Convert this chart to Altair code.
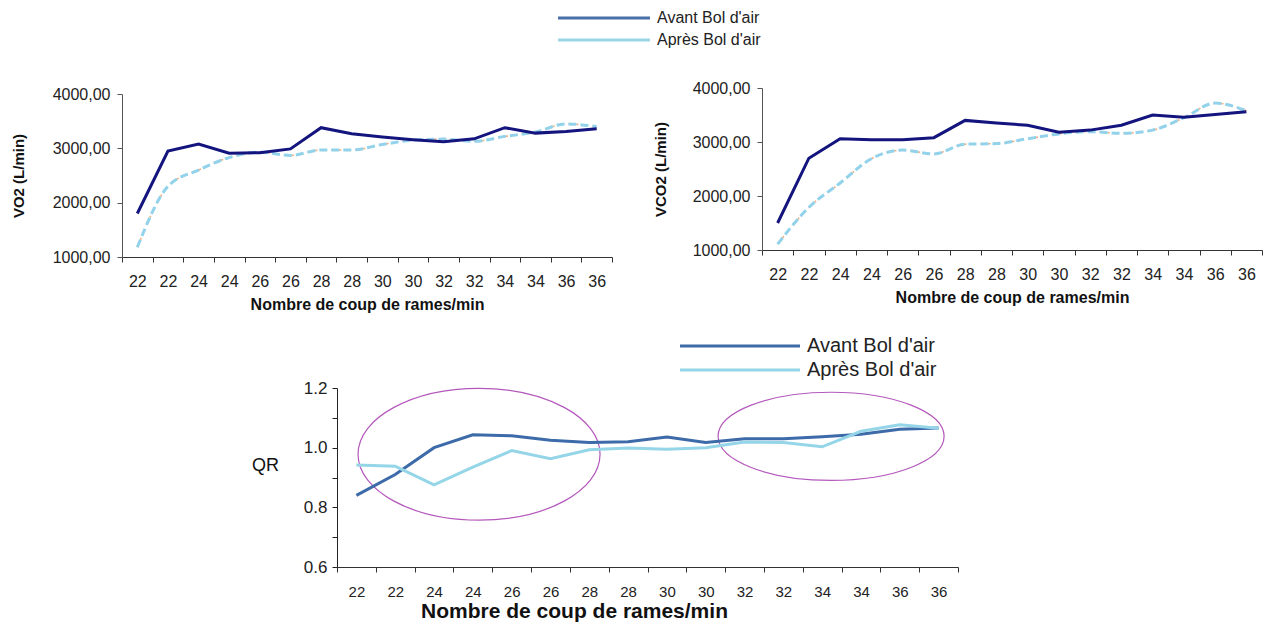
import json
import altair as alt
import pandas as pd

# ---------------- data ----------------
x_labels = ["22", "22", "24", "24", "26", "26", "28", "28",
            "30", "30", "32", "32", "34", "34", "36", "36"]
idx = list(range(len(x_labels)))

vo2_avant = [1800, 2950, 3080, 2910, 2920, 2990, 3380, 3270,
             3210, 3160, 3120, 3175, 3380, 3280, 3310, 3360]
vo2_apres = [1180, 2300, 2600, 2830, 2930, 2870, 2970, 2970,
             3070, 3150, 3170, 3130, 3220, 3300, 3450, 3400]

vco2_avant = [1500, 2700, 3060, 3040, 3040, 3080, 3400, 3350,
              3310, 3180, 3220, 3310, 3500, 3460, 3510, 3560]
vco2_apres = [1110, 1790, 2240, 2690, 2850, 2780, 2960, 2970,
              3060, 3150, 3190, 3160, 3220, 3450, 3720, 3580]

qr_avant = [0.84, 0.91, 1.00, 1.043, 1.04, 1.025, 1.017, 1.02,
            1.036, 1.017, 1.03, 1.03, 1.037, 1.045, 1.062, 1.066]
qr_apres = [0.942, 0.938, 0.875, 0.935, 0.99, 0.963, 0.993, 0.999,
            0.995, 1.0, 1.019, 1.017, 1.003, 1.055, 1.077, 1.065]

legend_labels = ["Avant Bol d'air", "Après Bol d'air"]
gas_ticks = [1000, 2000, 3000, 4000]
qr_ticks = [0.6, 0.7, 0.8, 0.9, 1.0, 1.1, 1.2]

# highlighted regions (ellipses): centre (index, QR)
ellipse_idx = [3.16, 12.23]
ellipse_qr = [0.978, 1.038]

# ---------------- layout (pixels inside the drawing area) ----------------
W, H = 1255, 615
FONT = "Liberation Sans"
N = len(x_labels)
boundaries = [i - 0.5 for i in range(N + 1)]
label_expr_x = json.dumps(x_labels) + "[round(datum.value + 0.5)] || ''"

C_AVANT_TOP = "#14147e"
C_APRES_TOP = "#92d2ea"
C_ORANGE = "#f0a878"
C_AVANT_QR = "#3d6aa8"
C_APRES_QR = "#94d5e8"
C_LEG = ["#4a70a8", "#9ad6e6"]
C_ELL = "#b458bc"


def x_enc(xr, axis_y, label_size, title_size, label_padding, title_padding, **extra):
    kw = dict(orient="bottom", offset=axis_y - H, values=boundaries,
              labelExpr=label_expr_x, labelOffset=(xr[1] - xr[0]) / N / 2,
              labelFlush=False, labelOverlap=False, labelFontSize=label_size,
              labelFont=FONT, labelColor="#222", labelPadding=label_padding,
              tickSize=5, tickColor="#333", domainColor="#333", grid=False,
              title="Nombre de coup de rames/min", titleFont=FONT,
              titleFontSize=title_size, titleFontWeight="bold", titleColor="#111",
              titlePadding=title_padding)
    kw.update(extra)
    return alt.X("idx:Q", scale=alt.Scale(domain=[-0.5, N - 0.5], range=list(xr),
                                          nice=False, zero=False),
                 axis=alt.Axis(**kw))


def legend_layers(colors, ys, x0, x1, xt, size):
    out = []
    for lab, col, yy in zip(legend_labels, colors, ys):
        d = pd.DataFrame({"label": [lab]})
        out.append(alt.Chart(d).mark_rule(strokeWidth=3, color=col).encode(
            x=alt.value(x0), x2=alt.value(x1), y=alt.value(yy)))
        out.append(alt.Chart(d).mark_text(align="left", baseline="middle", fontSize=size,
                                          font=FONT, color="#222").encode(
            x=alt.value(xt), y=alt.value(yy), text="label:N"))
    return out


def gas_panel(avant, apres, ytitle, xr, yr, title_x):
    df = pd.DataFrame({"idx": idx, "avant": avant, "apres": apres})
    x = x_enc(xr, yr[0], 16, 16, 11, 7)
    yscale = alt.Scale(domain=[1000, 4000], range=list(yr), nice=False, zero=False)
    yaxis = alt.Axis(orient="left", offset=-xr[0], values=gas_ticks,
                     labelExpr="replace(format(datum.value, '.2f'), '.', ',')",
                     labelFontSize=16, labelFont=FONT, labelColor="#222", labelPadding=7,
                     tickSize=5, tickColor="#555", domainColor="#555", grid=False,
                     title=ytitle, titleFont=FONT, titleFontSize=15, titleX=title_x,
                     titleBaseline="middle", titleFontWeight="bold", titleColor="#111")
    base = alt.Chart(df)
    orange = base.mark_line(interpolate="monotone", color=C_ORANGE, strokeWidth=1.5,
                            strokeDash=[2, 6]).encode(
        x=x, y=alt.Y("apres:Q", scale=yscale, axis=yaxis))
    ap = base.mark_line(interpolate="monotone", color=C_APRES_TOP, strokeWidth=3,
                        strokeDash=[8, 4]).encode(
        x=x, y=alt.Y("apres:Q", scale=yscale, axis=yaxis))
    av = base.mark_line(color=C_AVANT_TOP, strokeWidth=3).encode(
        x=x, y=alt.Y("avant:Q", scale=yscale, axis=yaxis))
    return alt.layer(orange, ap, av)


def ellipse_path(k):
    c = 0.5523
    return (f"M1,0 C1,{c*k:.4f} {c},{k:.4f} 0,{k:.4f} "
            f"C{-c},{k:.4f} -1,{c*k:.4f} -1,0 "
            f"C-1,{-c*k:.4f} {-c},{-k:.4f} 0,{-k:.4f} "
            f"C{c},{-k:.4f} 1,{-c*k:.4f} 1,0 Z")


# ---------------- top panels ----------------
vo2 = gas_panel(vo2_avant, vo2_apres, "VO2 (L/min)", (114, 604), (249, 86), -104)
vco2 = gas_panel(vco2_avant, vco2_apres, "VCO2 (L/min)", (754, 1254), (242, 80), -102)

# ---------------- QR panel ----------------
QX, QY = (329, 950), (559, 380)
qr_df = pd.DataFrame({"idx": idx, "avant": qr_avant, "apres": qr_apres})
qx = x_enc(QX, QY[0], 15, 21, 12, 10, titleX=566, titleY=44, titleBaseline="middle")
qscale = alt.Scale(domain=[0.6, 1.2], range=list(QY), nice=False, zero=False)
qaxis = alt.Axis(orient="left", offset=-QX[0], values=qr_ticks,
                 labelExpr="round(datum.value * 10) % 2 == 0 ? format(datum.value, '.1f') : ''",
                 labelFontSize=17, labelFont=FONT, labelColor="#222", labelPadding=5,
                 tickSize=5, tickColor="#222", domainColor="#222", grid=False,
                 title="QR", titleAngle=0, titleX=-72, titleY=457, titleAlign="center",
                 titleBaseline="middle", titleFont=FONT, titleFontSize=18,
                 titleFontWeight="normal", titleColor="#111")
qbase = alt.Chart(qr_df)
q_av = qbase.mark_line(color=C_AVANT_QR, strokeWidth=3).encode(
    x=qx, y=alt.Y("avant:Q", scale=qscale, axis=qaxis))
q_ap = qbase.mark_line(color=C_APRES_QR, strokeWidth=3).encode(
    x=qx, y=alt.Y("apres:Q", scale=qscale, axis=qaxis))

ell_layers = []
for ex, ey, k, w in zip(ellipse_idx, ellipse_qr, [0.545, 0.39], [242, 226]):
    d = pd.DataFrame({"idx": [ex], "qr": [ey]})
    ell_layers.append(alt.Chart(d).mark_point(shape=ellipse_path(k), filled=False,
                                              stroke=C_ELL, strokeWidth=1.2, opacity=1,
                                              size=w * w).encode(
        x=qx, y=alt.Y("qr:Q", scale=qscale, axis=qaxis)))
qr_panel = alt.layer(*ell_layers, q_av, q_ap)

# ---------------- legends ----------------
top_leg = legend_layers(C_LEG, [10, 32], 550, 642, 649, 16)
qr_leg = legend_layers([C_AVANT_QR, C_APRES_QR], [338, 362], 672, 792, 799, 20)

chart = alt.layer(vo2, vco2, qr_panel, *top_leg, *qr_leg).resolve_scale(
    x="independent", y="independent"
).properties(
    width=W, height=H, padding=0, autosize=alt.AutoSizeParams(type="none")
).configure_view(stroke=None)

chart.save("out.html", embed_options={"renderer": "svg", "actions": False})
